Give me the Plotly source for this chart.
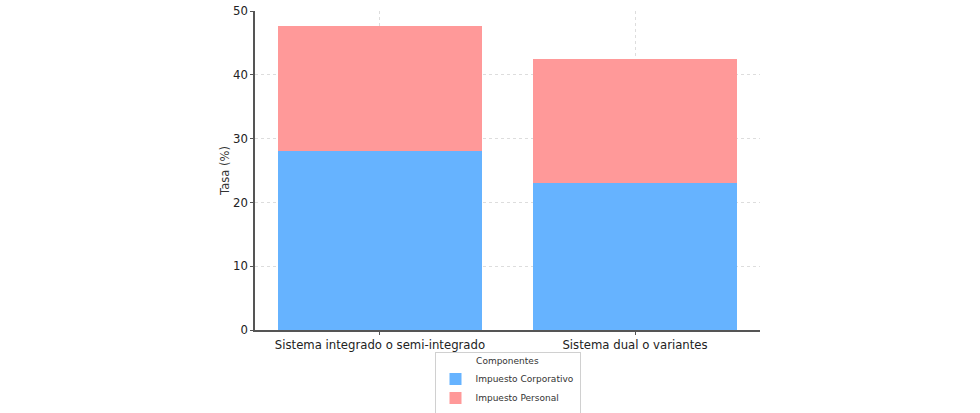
import plotly.graph_objects as go

categories = ["Sistema integrado o semi-integrado", "Sistema dual o variantes"]
corporativo = [28.0, 23.1]
personal = [19.7, 19.3]
series_names = ["Impuesto Corporativo", "Impuesto Personal"]
y_ticks = [0, 10, 20, 30, 40, 50]

fig = go.Figure()
fig.add_trace(go.Bar(x=[0, 1], y=corporativo, name=series_names[0],
                     marker=dict(color="#66b3ff", line=dict(width=0)), width=0.8))
fig.add_trace(go.Bar(x=[0, 1], y=personal, name=series_names[1],
                     marker=dict(color="#ff9999", line=dict(width=0)), width=0.8))

fig.update_layout(
    barmode="stack",
    width=980, height=413,
    margin=dict(l=255, r=220, t=11, b=83, autoexpand=False),
    paper_bgcolor="white", plot_bgcolor="white",
    font=dict(family="DejaVu Sans", size=11, color="#333333"),
    showlegend=True,
    legend=dict(
        title=dict(text="Componentes", side="top center", font=dict(size=9)),
        orientation="v", x=0.5, xanchor="center", y=-0.068, yanchor="top",
        traceorder="normal",
        font=dict(size=9), bordercolor="#d0d0d0", borderwidth=1,
        bgcolor="white", itemwidth=30, tracegroupgap=0,
    ),
    xaxis=dict(
        tickmode="array", tickvals=[0, 1], ticktext=categories,
        range=[-0.49, 1.49], showgrid=True, gridcolor="#dddddd", griddash="dot",
        showline=True, linecolor="#555555", linewidth=1.5, automargin=False,
        ticks="outside", ticklen=3, tickcolor="#555555",
        tickfont=dict(size=11.7, color="#222222"), zeroline=False,
    ),
    yaxis=dict(
        range=[0, 50], tickvals=y_ticks, showgrid=True, gridcolor="#dddddd", griddash="dot",
        showline=True, linecolor="#555555", linewidth=1.5, automargin=False,
        ticks="outside", ticklen=3, tickcolor="#555555",
        tickfont=dict(size=11.7, color="#222222"), zeroline=False,
        title=dict(text="Tasa (%)", font=dict(size=11.5, color="#333333"), standoff=1),
    ),
)

fig.write_html("out.html", config={"displayModeBar": False},
               post_script="document.body.style.margin='0';")
